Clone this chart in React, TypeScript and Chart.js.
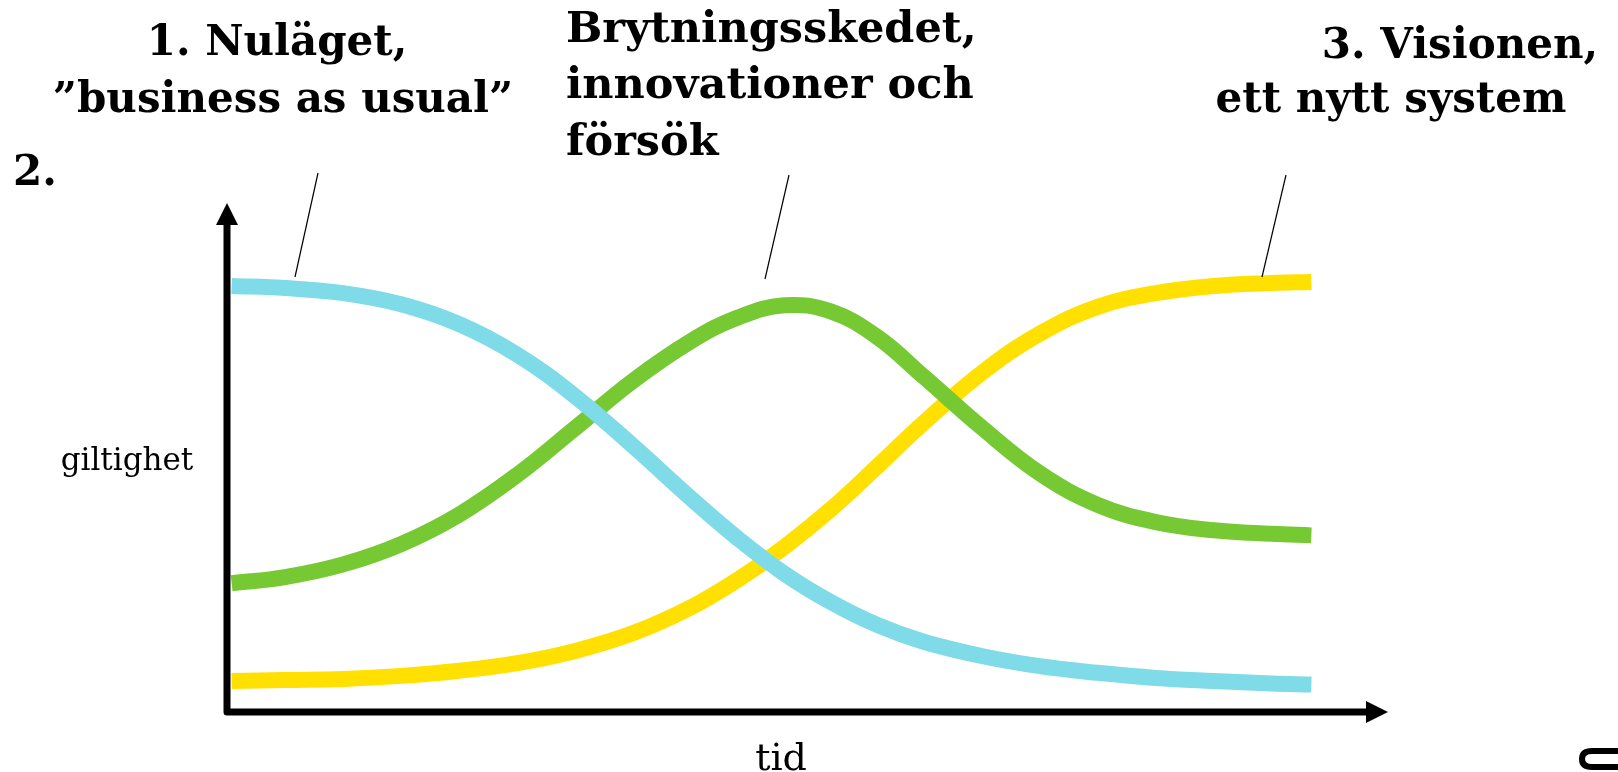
import React, { useEffect, useRef } from "react";
import { Chart, registerables } from "chart.js";

Chart.register(...registerables);

// time axis positions (tid)
const tid = [0.4, 5, 10, 15, 20, 25, 30, 35, 40, 44, 48, 52, 56, 60, 65, 70, 75, 80, 85, 90, 93.4];

// 1. Nuläget, "business as usual"
const nulaget = [83.7, 83.3, 82.3, 80.1, 76.2, 70.2, 62.0, 52.2, 41.9, 34.1, 27.2, 21.6, 17.1, 13.8, 11.0, 9.0, 7.7, 6.7, 6.1, 5.6, 5.4];
// 2. Brytningsskedet, innovationer och försök
const brytning = [25.3, 26.5, 29.0, 33.0, 38.8, 46.6, 55.8, 65.1, 72.9, 77.5, 79.9, 78.7, 73.7, 65.9, 55.9, 46.9, 40.7, 37.3, 35.7, 35.0, 34.7];
// 3. Visionen, ett nytt system
const visionen = [6.1, 6.3, 6.5, 7.1, 8.1, 9.6, 12.0, 15.5, 20.6, 26.0, 32.4, 39.8, 48.2, 56.8, 66.6, 74.3, 79.6, 82.3, 83.7, 84.3, 84.5];

const yLabel = "giltighet";
const xLabel = "tid";
const label1 = ["1. Nuläget,", "\u201Dbusiness as usual\u201D"];
const label2 = ["Brytningsskedet,", "innovationer och", "försök"];
const label3 = ["3. Visionen,", "ett nytt system"];
const label2num = "2.";

const W = 1618;
const H = 772;

const decorPlugin = {
  id: "decor",
  afterDatasetsDraw(chart: any) {
    const ctx = chart.ctx as CanvasRenderingContext2D;
    const a = chart.chartArea;
    ctx.save();
    // axes
    ctx.strokeStyle = "#000";
    ctx.fillStyle = "#000";
    ctx.lineWidth = 7;
    ctx.lineJoin = "round";
    ctx.lineCap = "butt";
    ctx.beginPath();
    ctx.moveTo(a.left, a.top + 20);
    ctx.lineTo(a.left, a.bottom);
    ctx.lineTo(a.right - 20, a.bottom);
    ctx.stroke();
    ctx.beginPath();
    ctx.moveTo(a.left - 11, a.top + 22);
    ctx.lineTo(a.left + 11, a.top + 22);
    ctx.lineTo(a.left, a.top);
    ctx.closePath();
    ctx.fill();
    ctx.beginPath();
    ctx.moveTo(a.right - 22, a.bottom - 11);
    ctx.lineTo(a.right - 22, a.bottom + 11);
    ctx.lineTo(a.right, a.bottom);
    ctx.closePath();
    ctx.fill();

    // leader lines
    ctx.lineWidth = 1.2;
    const leaders = [
      [318, 173, 295, 277],
      [789, 175, 765, 279],
      [1286, 175, 1262, 277],
    ];
    for (const [x1, y1, x2, y2] of leaders) {
      ctx.beginPath();
      ctx.moveTo(x1, y1);
      ctx.lineTo(x2, y2);
      ctx.stroke();
    }

    // headings
    ctx.textBaseline = "alphabetic";
    ctx.font = 'bold 42px "DejaVu Serif"';
    ctx.textAlign = "center";
    ctx.fillText(label1[0], 277, 55);
    ctx.fillText(label1[1], 283, 112);
    ctx.fillText(label3[0], 1460, 58);
    ctx.fillText(label3[1], 1391, 112);
    ctx.textAlign = "left";
    ctx.font = 'bold 43px "DejaVu Serif"';
    ctx.fillText(label2[0], 566, 42);
    ctx.fillText(label2[1], 566, 98);
    ctx.fillText(label2[2], 566, 155);
    ctx.font = 'bold 42px "DejaVu Serif"';
    ctx.fillText(label2num, 13, 185);

    // axis labels
    ctx.font = '31px "DejaVu Serif"';
    ctx.textAlign = "center";
    ctx.fillText(yLabel, 127, 470);
    ctx.font = '38px "DejaVu Serif"';
    ctx.fillText(xLabel, 781, 770);

    // partial logo in corner
    ctx.lineWidth = 6;
    ctx.lineJoin = "round";
    ctx.beginPath();
    ctx.moveTo(W, 751);
    ctx.lineTo(1592, 751);
    ctx.quadraticCurveTo(1582, 751, 1582, 759);
    ctx.quadraticCurveTo(1582, 767, 1592, 767);
    ctx.lineTo(W, 767);
    ctx.stroke();
    ctx.restore();
  },
};

export default function App() {
  const ref = useRef<HTMLCanvasElement | null>(null);
  useEffect(() => {
    if (!ref.current) return;
    const mk = (data: number[], color: string) => ({
      data: tid.map((x, i) => ({ x, y: data[i] })),
      borderColor: color,
      borderWidth: 16,
      borderCapStyle: "butt" as const,
      borderJoinStyle: "round" as const,
      pointRadius: 0,
      tension: 0.4,
      fill: false,
      clip: false as any,
    });
    const chart = new Chart(ref.current, {
      type: "line",
      data: {
        datasets: [
          mk(nulaget, "#7FDBE8"),
          mk(brytning, "#76C932"),
          mk(visionen, "#FFE000"),
        ],
      },
      options: {
        animation: false,
        responsive: false,
        devicePixelRatio: 1,
        layout: { padding: { left: 227, right: W - 1388, top: 203, bottom: H - 712 } },
        plugins: { legend: { display: false }, tooltip: { enabled: false }, title: { display: false } },
        scales: {
          x: { type: "linear", min: 0, max: 100, display: false },
          y: { type: "linear", min: 0, max: 100, display: false },
        },
        events: [],
      },
      plugins: [decorPlugin],
    });
    return () => chart.destroy();
  }, []);
  return (
    <div style={{ position: "fixed", left: 0, top: 0, width: W, height: H, background: "#fff" }}>
      <canvas ref={ref} width={W} height={H} style={{ display: "block" }} />
    </div>
  );
}
